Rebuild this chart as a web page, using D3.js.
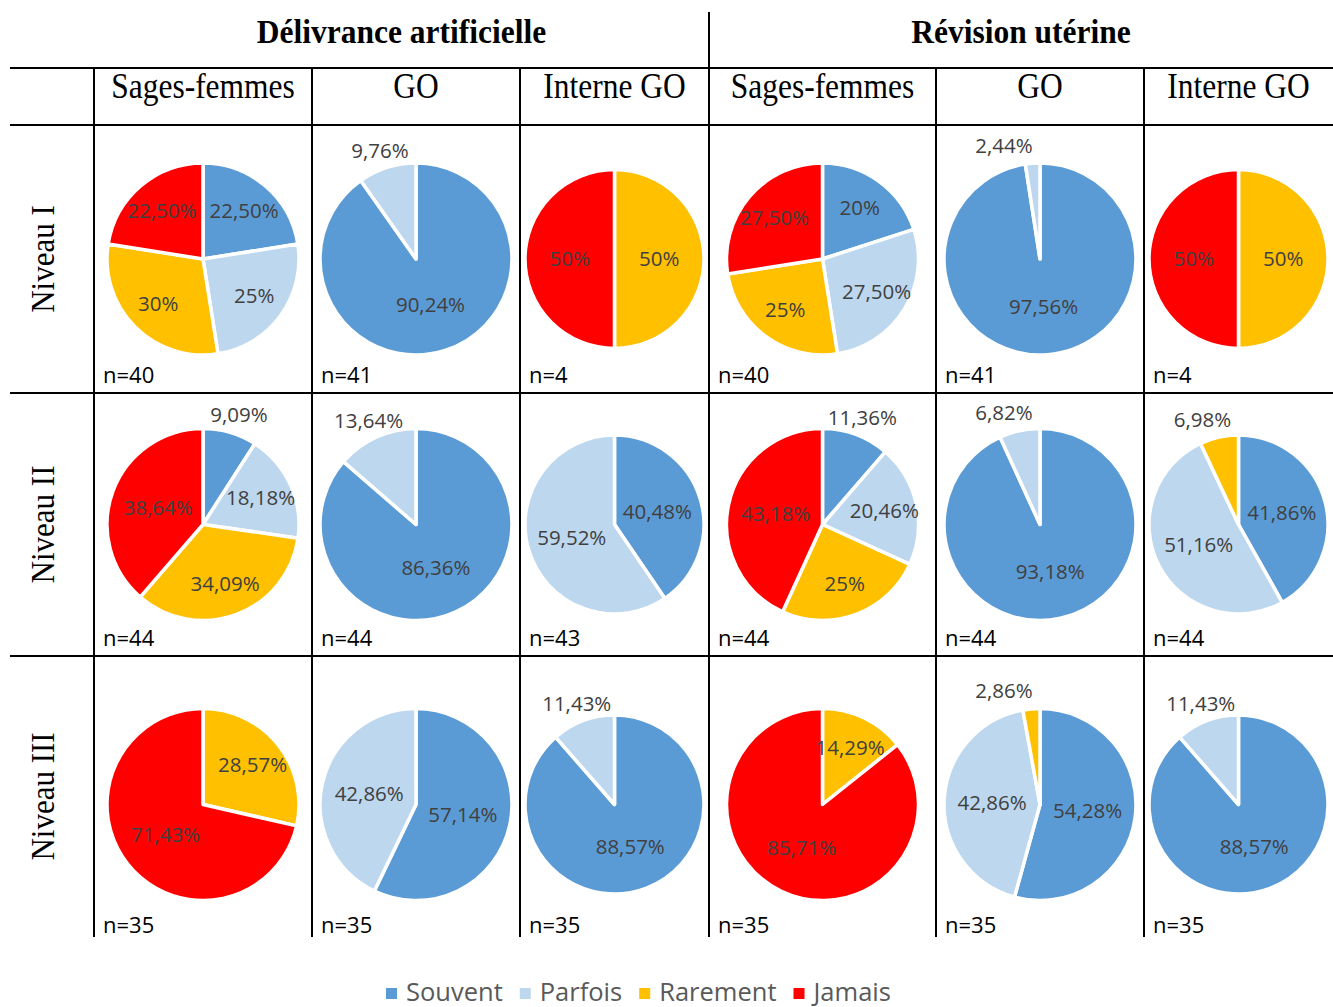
<!DOCTYPE html>
<html>
<head>
<meta charset="utf-8">
<script src="https://cdn.jsdelivr.net/npm/d3@7"></script>
<style>
  body { margin: 0; background: #fff; }
</style>
</head>
<body>
<div id="viz"></div>
<script>
// chart data
const groups = ["Délivrance artificielle", "Révision utérine"];
const professions = ["Sages-femmes", "GO", "Interne GO"];
const levels = ["Niveau I", "Niveau II", "Niveau III"];
const categories = ["Souvent", "Parfois", "Rarement", "Jamais"];

// [level][profession] -> [Souvent, Parfois, Rarement, Jamais] in %
const delivranceValues = [
  [[22.5, 25, 30, 22.5], [90.24, 9.76, 0, 0], [0, 0, 50, 50]],
  [[9.09, 18.18, 34.09, 38.64], [86.36, 13.64, 0, 0], [40.48, 59.52, 0, 0]],
  [[0, 0, 28.57, 71.43], [57.14, 42.86, 0, 0], [88.57, 11.43, 0, 0]]
];
const revisionValues = [
  [[20, 27.5, 25, 27.5], [97.56, 2.44, 0, 0], [0, 0, 50, 50]],
  [[11.36, 20.46, 25, 43.18], [93.18, 6.82, 0, 0], [41.86, 51.16, 6.98, 0]],
  [[0, 0, 14.29, 85.71], [54.28, 42.86, 2.86, 0], [88.57, 11.43, 0, 0]]
];
const delivranceN = [[40, 41, 4], [44, 44, 43], [35, 35, 35]];
const revisionN = [[40, 41, 4], [44, 44, 44], [35, 35, 35]];

const colors = ["#5b9bd5", "#bdd7ee", "#ffc000", "#ff0000"];

// table layout
const width = 1333, height = 1007;
const colEdges = [94, 312, 520, 709, 936, 1144, 1333];
const rowEdges = [125, 393, 656, 937];
const headerLines = [68, 125];

const svg = d3.select("#viz").append("svg")
  .attr("width", width)
  .attr("height", height)
  .style("background-color", "#fff");

const color = d3.scaleOrdinal().domain(categories).range(colors);
const fmt = v => (Number.isInteger(v) ? v : v.toFixed(2).replace(".", ",")) + "%";

// grid lines
const grid = svg.append("g").attr("stroke", "#000").attr("stroke-width", 2);
[...headerLines, rowEdges[1], rowEdges[2]].forEach(y => {
  grid.append("line").attr("x1", 10).attr("x2", width).attr("y1", y).attr("y2", y);
});
colEdges.slice(0, 6).forEach(x => {
  grid.append("line").attr("x1", x).attr("x2", x)
    .attr("y1", x === colEdges[3] ? 12 : headerLines[0]).attr("y2", rowEdges[3]);
});

// group headers
groups.forEach((g, i) => {
  const x = (colEdges[i * 3] + colEdges[i * 3 + 3]) / 2;
  svg.append("text")
    .attr("transform", `translate(${x},43) scale(1,1.1)`)
    .attr("text-anchor", "middle")
    .style("font-family", "'Liberation Serif', 'Times New Roman', serif")
    .style("font-weight", "bold")
    .style("font-size", "31.5px")
    .text(g);
});

// column headers
d3.range(6).forEach(c => {
  const x = (colEdges[c] + colEdges[c + 1]) / 2;
  svg.append("text")
    .attr("transform", `translate(${x},98) scale(1,1.12)`)
    .attr("text-anchor", "middle")
    .style("font-family", "'Liberation Serif', 'Times New Roman', serif")
    .style("font-size", "31.5px")
    .text(professions[c % 3]);
});

// row headers
levels.forEach((l, r) => {
  const y = (rowEdges[r] + rowEdges[r + 1]) / 2;
  svg.append("text")
    .attr("transform", `translate(42,${y}) rotate(-90) scale(1,1.12)`)
    .attr("text-anchor", "middle")
    .attr("dominant-baseline", "central")
    .style("font-family", "'Liberation Serif', 'Times New Roman', serif")
    .style("font-size", "31px")
    .text(l);
});

const pie = d3.pie().sort(null).value(d => d.value);

function drawPie(values, n, col, row) {
  const x0 = colEdges[col], x1 = colEdges[col + 1];
  const y0 = rowEdges[row], y1 = rowEdges[row + 1];
  const cx = (x0 + x1) / 2;
  const cy = (y0 + y1) / 2 + (row === 2 ? 8 : 0);
  const r = Math.min(96, (x1 - x0) / 2 - 5);

  const data = categories.map((c, i) => ({ cat: c, value: values[i] })).filter(d => d.value > 0);
  const arcs = pie(data);
  const arc = d3.arc().innerRadius(0).outerRadius(r);

  const g = svg.append("g").attr("transform", `translate(${cx},${cy})`);

  g.selectAll("path")
    .data(arcs)
    .join("path")
    .attr("d", arc)
    .attr("fill", d => color(d.data.cat))
    .attr("stroke", "#fff")
    .attr("stroke-width", 3.5)
    .attr("stroke-linejoin", "round");

  g.selectAll("text")
    .data(arcs)
    .join("text")
    .each(function (d) {
      const a = (d.startAngle + d.endAngle) / 2;
      let px, py;
      if (d.data.value < 14) {
        const dist = r + 18;
        const s = Math.sin(a);
        px = Math.sign(s || -1) * Math.max(Math.abs(s) * dist, 36);
        py = -Math.cos(a) * dist;
      } else {
        const f = d.data.value >= 35 ? 0.5 : 0.66;
        [px, py] = d3.arc().innerRadius(r * f).outerRadius(r * f).centroid(d);
      }
      d3.select(this).attr("x", px).attr("y", py);
    })
    .attr("text-anchor", "middle")
    .attr("dy", "0.35em")
    .style("font-family", "'Open Sans', sans-serif")
    .style("font-size", "20.5px")
    .attr("fill", "#404040")
    .text(d => fmt(d.data.value));

  svg.append("text")
    .attr("x", x0 + 9)
    .attr("y", y1 - (row === 2 ? 4 : 10))
    .style("font-family", "'Open Sans', sans-serif")
    .style("font-size", "22px")
    .attr("fill", "#000")
    .text("n=" + n);
}

levels.forEach((l, row) => {
  professions.forEach((p, i) => {
    drawPie(delivranceValues[row][i], delivranceN[row][i], i, row);
    drawPie(revisionValues[row][i], revisionN[row][i], i + 3, row);
  });
});

// legend
const legend = svg.append("g");
let lx = 386;
categories.forEach(c => {
  legend.append("rect")
    .attr("x", lx).attr("y", 988)
    .attr("width", 11).attr("height", 11)
    .attr("fill", color(c));
  const t = legend.append("text")
    .attr("x", lx + 20).attr("y", 1001)
    .style("font-family", "'Open Sans', sans-serif")
    .style("font-size", "25.5px")
    .attr("fill", "#595959")
    .text(c);
  lx += 20 + t.node().getComputedTextLength() + 17;
});
</script>
</body>
</html>
